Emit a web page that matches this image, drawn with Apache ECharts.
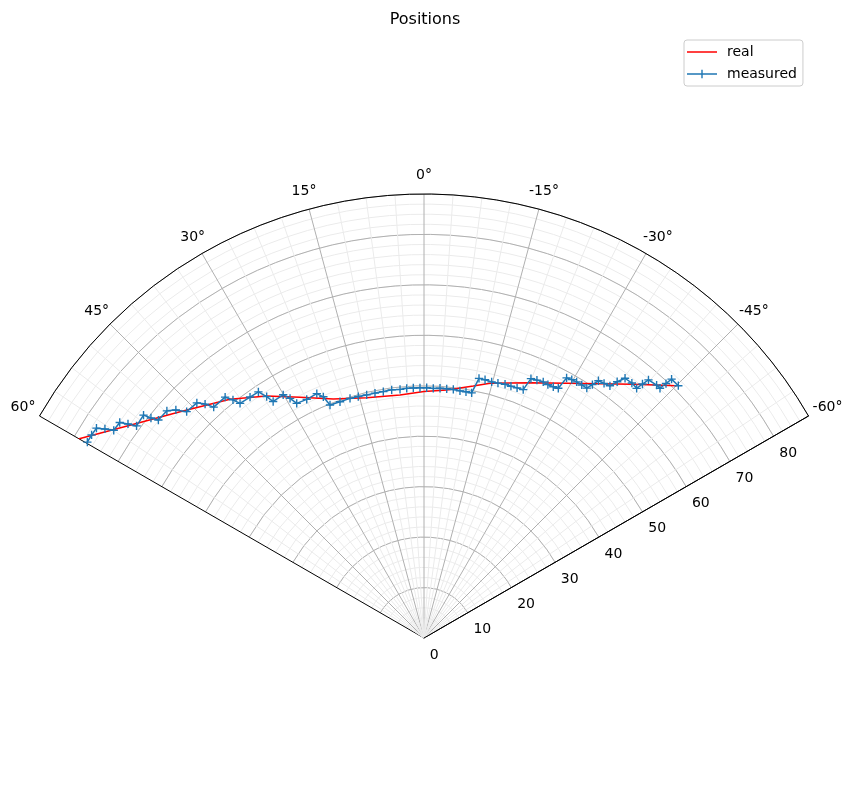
<!DOCTYPE html>
<html>
<head>
<meta charset="utf-8">
<script src="https://cdn.jsdelivr.net/npm/echarts@6/dist/echarts.min.js"></script>
<style>
  html, body { margin: 0; padding: 0; background: #fff; }
  #positions { width: 850px; height: 812px; }
</style>
</head>
<body>
<div id="positions"></div>
<script>
// real trajectory (angle in degrees, radius)
var realAngle = [60.07, 54.11, 47.15, 39.10, 33.02, 27.25, 20.78, 13.41, 5.64, 0, -5.23, -11.07, -14.53, -22.55, -29.26, -39.52, -45.04];
var realRadius = [79.07, 71.93, 65.96, 60.97, 57.21, 53.67, 50.67, 48.97, 48.40, 48.86, 49.36, 50.90, 52.15, 54.79, 57.87, 65.19, 70.78];

// measured trajectory
var measAngle = [59.80, 58.58, 57.35, 56.77, 56.20, 54.69, 54.13, 53.58, 51.53, 51.14,
  50.63, 48.54, 47.41, 46.36, 44.01, 43.10, 42.33, 39.55, 38.74, 38.09,
  35.83, 33.93, 33.10, 32.53, 30.07, 29.21, 28.48, 26.17, 23.68, 22.65,
  21.97, 19.57, 17.16, 15.23, 13.27, 11.32, 9.38, 7.42, 5.51, 3.96,
  2.45, 0.92, -0.62, -2.13, -3.67, -5.21, -6.73, -8.28, -9.68, -11.00,
  -11.96, -13.30, -14.80, -16.18, -17.71, -19.05, -20.41, -21.78, -22.41, -23.65,
  -24.96, -26.06, -27.23, -28.27, -28.73, -29.76, -30.79, -31.94, -33.09, -33.61,
  -34.14, -35.27, -36.40, -37.01, -37.74, -39.19, -40.42, -40.70, -41.01, -42.61,
  -43.38, -43.56, -43.72, -45.23];
var measRadius = [77.2, 77.2, 77.1, 75.6, 74.0, 73.9, 72.4, 70.8, 71.0, 69.5,
  68.1, 68.0, 66.8, 65.0, 64.8, 63.5, 61.9, 61.9, 60.5, 59.1,
  58.9, 58.8, 57.1, 55.6, 55.7, 54.4, 52.9, 52.7, 52.9, 51.8,
  49.8, 49.7, 49.7, 49.6, 49.5, 49.5, 49.5, 49.6, 49.5, 49.6,
  49.6, 49.6, 49.6, 49.5, 49.6, 49.6, 49.6, 49.5, 49.5, 49.5,
  52.6, 52.6, 52.5, 52.6, 52.8, 52.8, 52.9, 53.0, 55.6, 55.8,
  56.0, 55.9, 56.0, 56.2, 58.8, 59.0, 59.1, 59.1, 59.1, 60.3,
  61.6, 61.8, 62.1, 63.6, 65.1, 65.2, 65.0, 66.4, 67.8, 68.1,
  68.1, 69.6, 71.0, 71.0];

var radiusTicks = [0, 10, 20, 30, 40, 50, 60, 70, 80];

var chart = echarts.init(document.getElementById('positions'));

var font = 'DejaVu Sans, sans-serif';
var grey = '#b0b0b0';
var minorGrey = '#ebebeb';
var plusMarker = 'path://M4.17,0H5.83V4.17H10V5.83H5.83V10H4.17V5.83H0V4.17H4.17Z';

var realData = realAngle.map(function (a, i) { return [realRadius[i], a]; });
var measData = measAngle.map(function (a, i) { return [measRadius[i], a]; });

chart.setOption({
    animation: false,
    title: {
        text: 'Positions',
        left: 'center',
        top: 7,
        textStyle: { fontFamily: font, fontSize: 16, fontWeight: 'normal', color: '#000' }
    },
    legend: {
        orient: 'vertical',
        left: 684,
        top: 40,
        padding: [5, 6, 5, 3],
        itemWidth: 30,
        itemHeight: 10,
        itemGap: 8,
        borderColor: '#cccccc',
        borderWidth: 1,
        borderRadius: 3,
        textStyle: { fontFamily: font, fontSize: 14, color: '#000', padding: [0, 0, 0, 5] },
        data: [
            { name: 'real', icon: 'path://M0,4.25H30V5.75H0Z' },
            { name: 'measured', icon: 'path://M0,4.25H30V5.75H0Z M14.3,0.8H15.7V9.2H14.3Z' }
        ]
    },
    // two polar systems on the same spot: the second one only carries the fine radial grid
    polar: [
        { center: [424, 638], radius: 444 },
        { center: [424, 638], radius: 444 }
    ],
    angleAxis: [
        {
            polarIndex: 0,
            type: 'value',
            min: -60,
            max: 60,
            interval: 15,
            startAngle: 30,
            endAngle: 150,
            clockwise: false,
            z: 2,
            axisLine: { lineStyle: { color: '#000', width: 1 } },
            axisTick: { show: false },
            axisLabel: {
                formatter: '{value}°',
                margin: 19.6,
                // pulls every label back so it sits centred on its anchor
                padding: [0, -12.9, -8.1, -12.9],
                fontFamily: font,
                fontSize: 14,
                color: '#000'
            },
            splitLine: {
                show: true,
                lineStyle: { color: ['#000', grey, grey, grey, grey, grey, grey, grey, '#000'], width: 1 }
            },
            minorTick: { show: false, splitNumber: 4 },
            minorSplitLine: { show: true, lineStyle: { color: minorGrey, width: 1 } }
        },
        {
            polarIndex: 1,
            type: 'value',
            min: -60,
            max: 60,
            interval: 15,
            startAngle: 30,
            endAngle: 150,
            clockwise: false,
            z: 0,
            axisLine: { show: false },
            axisTick: { show: false },
            axisLabel: { show: false },
            splitLine: { show: false }
        }
    ],
    radiusAxis: [
        {
            polarIndex: 0,
            type: 'value',
            min: 0,
            max: 88,
            interval: 10,
            z: 2,
            axisLine: { lineStyle: { color: '#000', width: 1 } },
            axisTick: { show: false },
            axisLabel: {
                showMaxLabel: false,
                margin: -11.5,
                align: 'left',
                verticalAlign: 'top',
                fontFamily: font,
                fontSize: 14,
                color: '#000',
                formatter: function (v) { return radiusTicks.indexOf(v) >= 0 ? String(v) : ''; }
            },
            splitLine: { show: true, lineStyle: { color: grey, width: 1 } }
        },
        {
            polarIndex: 1,
            type: 'value',
            min: 0,
            max: 88,
            interval: 2,
            z: 0,
            axisLine: { show: false },
            axisTick: { show: false },
            axisLabel: { show: false },
            splitLine: { show: true, lineStyle: { color: minorGrey, width: 1 } }
        }
    ],
    series: [
        {
            name: 'real',
            type: 'line',
            coordinateSystem: 'polar',
            polarIndex: 0,
            data: realData,
            showSymbol: false,
            symbol: 'none',
            color: '#ff0000',
            lineStyle: { color: '#ff0000', width: 1.5 },
            z: 3
        },
        {
            name: 'measured',
            type: 'line',
            coordinateSystem: 'polar',
            polarIndex: 0,
            data: measData,
            showSymbol: true,
            symbol: plusMarker,
            symbolSize: 8.3,
            showAllSymbol: true,
            color: '#1f77b4',
            itemStyle: { color: '#1f77b4' },
            lineStyle: { color: '#1f77b4', width: 1.5 },
            z: 4
        }
    ]
});
</script>
</body>
</html>
